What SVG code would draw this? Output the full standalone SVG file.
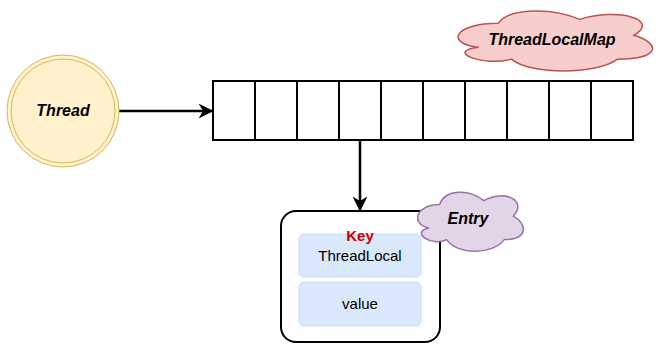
<svg xmlns="http://www.w3.org/2000/svg" width="659" height="351" viewBox="0 0 659 351">
  <style>
    .lbl { font-family: "Liberation Sans", Arial, sans-serif; text-anchor: middle; }
    .bi { font-weight: bold; font-style: italic; font-size: 16px; fill: #000; }
    .cell { fill: #fff; stroke: #000; stroke-width: 2; }
    .edge { stroke: #000; stroke-width: 2.5; fill: none; }
    .slot { fill: #dae8fc; stroke: #c9dcf7; stroke-width: 1; }
    .note { stroke-width: 1.5; vector-effect: non-scaling-stroke; }
  </style>
  <defs>
    <marker id="arr" viewBox="0 0 10 10" refX="9" refY="5" markerWidth="6" markerHeight="6" orient="auto" markerUnits="strokeWidth">
      <path d="M0 0 L10 5 L0 10 L3 5 Z" fill="#000"/>
    </marker>
  </defs>

  <rect width="659" height="351" fill="#fff"/>

  <!-- connectors -->
  <g id="connectors">
    <line class="edge" x1="119" y1="111" x2="212" y2="111" marker-end="url(#arr)"/>
    <line class="edge" x1="360" y1="141" x2="360" y2="210" marker-end="url(#arr)"/>
  </g>

  <!-- thread -->
  <g id="thread">
    <circle cx="63" cy="111" r="56" fill="#fff2cc" stroke="#d6b656" stroke-width="1"/>
    <circle cx="63" cy="111" r="52" fill="none" stroke="#d6b656" stroke-width="1"/>
    <text class="lbl bi" x="63" y="116">Thread</text>
  </g>

  <!-- slot array -->
  <g id="table">
    <rect class="cell" x="213" y="81" width="42" height="59"/>
    <rect class="cell" x="255" y="81" width="42" height="59"/>
    <rect class="cell" x="297" y="81" width="42" height="59"/>
    <rect class="cell" x="339" y="81" width="42" height="59"/>
    <rect class="cell" x="381" y="81" width="42" height="59"/>
    <rect class="cell" x="423" y="81" width="42" height="59"/>
    <rect class="cell" x="465" y="81" width="42" height="59"/>
    <rect class="cell" x="507" y="81" width="42" height="59"/>
    <rect class="cell" x="549" y="81" width="42" height="59"/>
    <rect class="cell" x="591" y="81" width="42" height="59"/>
  </g>

  <!-- map label -->
  <g id="map-label">
    <path class="note" d="M25 25 C5 25 0 50 16 55 C0 60 18 80 31 70 C40 90 70 90 80 70 C100 70 100 50 87.5 40 C100 20 80 5 62.5 20 C50 5 30 5 25 25 Z" transform="translate(444,3.5) scale(2.17,0.795)" fill="#f8cecc" stroke="#b85450"/>
    <text class="lbl bi" x="552" y="45">ThreadLocalMap</text>
  </g>

  <!-- entry -->
  <g id="entry">
    <rect x="281" y="211" width="159" height="131" rx="15" ry="15" fill="#fff" stroke="#000" stroke-width="2"/>
    <rect class="slot" x="299" y="234" width="122" height="43" rx="5"/>
    <rect class="slot" x="299" y="282" width="122" height="44" rx="5"/>
    <text class="lbl" x="360" y="241" font-size="15" font-weight="bold" fill="#cc0000">Key</text>
    <text class="lbl" x="360" y="261" font-size="15" fill="#000">ThreadLocal</text>
    <text class="lbl" x="360" y="309" font-size="15" fill="#000">value</text>
  </g>

  <!-- entry label -->
  <g id="entry-label">
    <path class="note" d="M25 25 C5 25 0 50 16 55 C0 60 18 80 31 70 C40 90 70 90 80 70 C100 70 100 50 87.5 40 C100 20 80 5 62.5 20 C50 5 30 5 25 25 Z" transform="translate(410,185) scale(1.18,0.78)" fill="#e1d5e7" stroke="#9673a6"/>
    <text class="lbl bi" x="468" y="224">Entry</text>
  </g>
</svg>
